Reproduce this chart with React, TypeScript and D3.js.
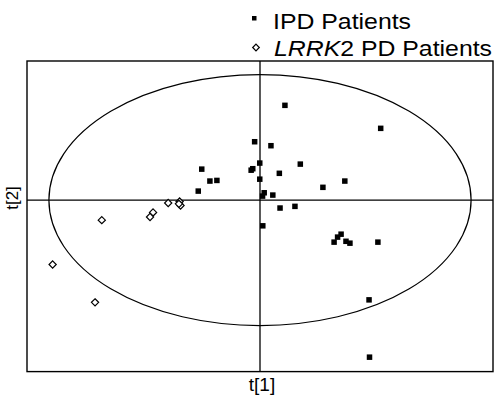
import React from "react"
import * as d3 from "d3"

// PLS-DA style score plot: t[1] vs t[2]
const ipdT1 = [
  1.07, 5.18, -0.23, 0.47, -0.01, 1.73, -0.38, -0.31, -2.5, 0.83, -0.01, -2.15, -1.85, 3.64, 2.7,
  -2.65, 0.18, 0.11, 0.55, 0.86, 1.5, 0.12, 3.48, 3.33, 3.18, 3.69, 3.86, 5.06, 4.68, 4.7,
]
const ipdT2 = [
  4.53, 3.43, 2.79, 2.6, 1.77, 1.72, 1.43, 1.5, 1.48, 1.28, 1.0, 0.91, 0.94, 0.91, 0.61,
  0.43, 0.35, 0.19, 0.24, -0.38, -0.3, -1.23, -1.63, -1.77, -2.01, -1.97, -2.06, -2.01, -4.77, -7.51,
]
const lrrkT1 = [-3.45, -3.41, -3.48, -3.94, -4.59, -4.72, -6.79, -8.9, -7.08]
const lrrkT2 = [-0.07, -0.26, -0.18, -0.14, -0.59, -0.81, -0.96, -3.08, -4.89]

// Hotelling T2 ellipse semi-axes (score units)
const ellipseRadii = [9.06, 6.0]

const xDomain = [-10, 10]
const yDomain = [-8.2, 6.65]

const legendLabels = ["IPD Patients", "LRRK", "2 PD Patients"]
const axisLabels = ["t[1]", "t[2]"]

const font = "'Liberation Sans', Arial, sans-serif"

const App: React.FC = () => {
  const width = 498
  const height = 399

  const x = d3.scaleLinear().domain(xDomain).range([27, 493])
  const y = d3.scaleLinear().domain(yDomain).range([371.6, 61])

  const sq = 5.5
  const dh = 3.6
  const diamond = (cx: number, cy: number, h: number) =>
    `M${cx},${cy - h}L${cx + h},${cy}L${cx},${cy + h}L${cx - h},${cy}Z`

  const ipd = ipdT1.map((t1, i) => ({ t1, t2: ipdT2[i] }))
  const lrrk = lrrkT1.map((t1, i) => ({ t1, t2: lrrkT2[i] }))

  return (
    <svg
      width={width}
      height={height}
      style={{ position: "absolute", left: 0, top: 0, background: "#fff" }}
    >
      {/* frame */}
      <rect
        x={x(xDomain[0])}
        y={y(yDomain[1])}
        width={x(xDomain[1]) - x(xDomain[0])}
        height={y(yDomain[0]) - y(yDomain[1])}
        fill="none"
        stroke="#000"
        strokeWidth={1.4}
      />
      {/* crosshair through origin */}
      <line x1={x(0)} x2={x(0)} y1={y(yDomain[1])} y2={y(yDomain[0])} stroke="#000" strokeWidth={1.3} />
      <line x1={x(xDomain[0])} x2={x(xDomain[1])} y1={y(0)} y2={y(0)} stroke="#000" strokeWidth={1.3} />
      {/* confidence ellipse */}
      <ellipse
        cx={x(0)}
        cy={y(0)}
        rx={x(ellipseRadii[0]) - x(0)}
        ry={y(0) - y(ellipseRadii[1])}
        fill="none"
        stroke="#000"
        strokeWidth={1.2}
      />

      {/* LRRK2 PD patients */}
      {lrrk.map((d, i) => (
        <path key={"l" + i} d={diamond(x(d.t1), y(d.t2), dh)} fill="#fff" stroke="#000" strokeWidth={1.2} />
      ))}
      {/* IPD patients */}
      {ipd.map((d, i) => (
        <rect key={"p" + i} x={x(d.t1) - sq / 2} y={y(d.t2) - sq / 2} width={sq} height={sq} fill="#000" />
      ))}

      {/* legend */}
      <rect x={252} y={16} width={4.5} height={4.5} fill="#000" />
      <text x={273} y={28.5} fontFamily={font} fontSize={22} textLength={138} lengthAdjust="spacingAndGlyphs">
        {legendLabels[0]}
      </text>
      <path d={diamond(256, 47.5, 3.3)} fill="#fff" stroke="#000" strokeWidth={1.2} />
      <text x={274} y={56} fontFamily={font} fontSize={22} textLength={218} lengthAdjust="spacingAndGlyphs">
        <tspan fontStyle="italic">{legendLabels[1]}</tspan>
        {legendLabels[2]}
      </text>

      {/* axis titles */}
      <text x={262} y={390.5} textAnchor="middle" fontFamily={font} fontSize={19}>
        {axisLabels[0]}
      </text>
      <text
        transform={`translate(18,198) rotate(-90)`}
        textAnchor="middle"
        fontFamily={font}
        fontSize={17}
      >
        {axisLabels[1]}
      </text>
    </svg>
  )
}

export default App
